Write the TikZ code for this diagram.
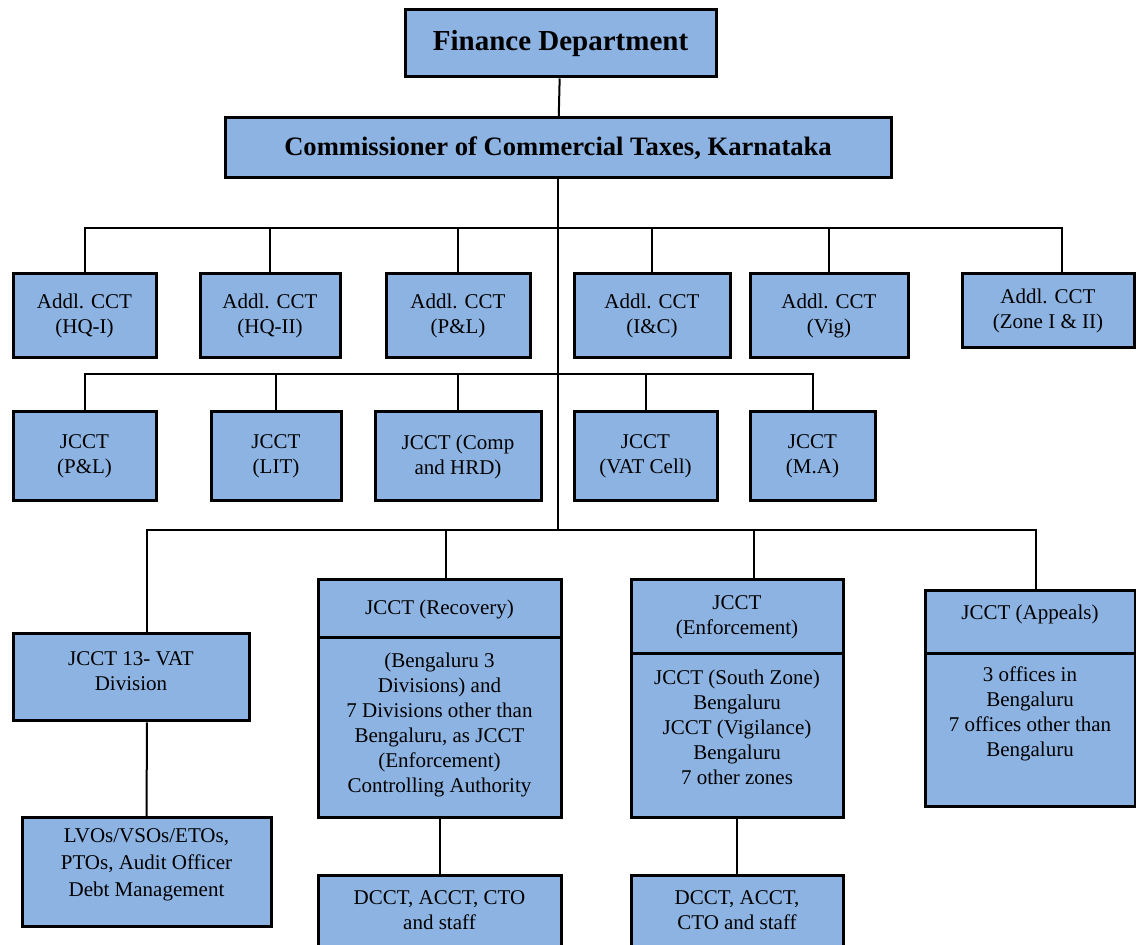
\documentclass[tikz,border=0pt]{standalone}
\usepackage{fontspec}
\setmainfont{Liberation Serif}
\usepackage{xcolor}
\definecolor{boxblue}{RGB}{141,179,226}
\tikzstyle{box}=[draw, line width=1.5pt, fill=boxblue, align=center, inner sep=0pt, font=\fontsize{10.5}{12.5}\selectfont]
\tikzstyle{link}=[line width=1pt]
\tikzstyle{addl}=[box, minimum height=42pt]
\tikzstyle{jcct}=[box, minimum height=44.5pt]

\begin{document}
\begin{tikzpicture}[x=0.5pt,y=-0.5pt]
  \useasboundingbox (0,0) rectangle (1136,945);
  %% top of the tree
  \draw (560.5,43.5) node[box,minimum width=155.5pt,minimum height=33.5pt,font=\fontsize{14.5}{17}\selectfont\bfseries] (F) {Finance Department};
  \draw (558,148) node[box,minimum width=333pt,minimum height=30pt,font=\fontsize{13.3}{16}\selectfont\bfseries] (C) {Commissioner of Commercial Taxes, Karnataka};

  %% Addl. CCT row
  \draw (84.5,316) node[addl,minimum width=71.5pt] (A1) {Addl. CCT\\(HQ-I)};
  \draw (270,316) node[addl,minimum width=70pt] (A2) {Addl. CCT\\(HQ-II)};
  \draw (458,316) node[addl,minimum width=72pt] (A3) {Addl. CCT\\(P\&L)};
  \draw (652,316) node[addl,minimum width=78pt] (A4) {Addl. CCT\\(I\&C)};
  \draw (829,316) node[addl,minimum width=79pt] (A5) {Addl. CCT\\(Vig)};
  \draw (1048,311) node[addl,minimum width=86pt,minimum height=37pt] (A6) {Addl. CCT\\(Zone I \& II)};

  %% JCCT row
  \draw (84.5,456.5) node[jcct,minimum width=71.5pt] (J1) {JCCT\\(P\&L)};
  \draw (276,456.5) node[jcct,minimum width=65pt] (J2) {JCCT\\(LIT)};
  \draw (458,456.5) node[jcct,minimum width=83pt] (J3) {JCCT (Comp\\and HRD)};
  \draw (645.5,456.5) node[jcct,minimum width=71.5pt] (J4) {JCCT\\(VAT Cell)};
  \draw (812.5,456.5) node[jcct,minimum width=62.5pt] (J5) {JCCT\\(M.A)};

  %% lower branches
  \draw (131,677.5) node[box,minimum width=118pt,minimum height=43.5pt,text depth=6pt] (V) {JCCT 13- VAT\\Division};
  \draw (146.5,872.5) node[box,minimum width=124.5pt,minimum height=54.5pt,text depth=10pt,font=\fontsize{10.5}{13.5}\selectfont] (L) {LVOs/VSOs/ETOs,\\PTOs, Audit Officer\\Debt Management};

  \draw (439.5,609) node[box,minimum width=121.5pt,minimum height=29pt] (Rt) {JCCT (Recovery)};
  \draw (439.5,728) node[box,minimum width=121.5pt,minimum height=90pt,text depth=5pt] (Rb) {(Bengaluru 3\\Divisions) and\\7 Divisions other than\\Bengaluru, as JCCT\\(Enforcement)\\Controlling Authority};
  \draw (439.5,916) node[box,minimum width=121.5pt,minimum height=40pt,text depth=6pt] (D1) {DCCT, ACCT, CTO\\and staff};

  \draw (737,617) node[box,minimum width=106pt,minimum height=37pt] (Et) {JCCT\\(Enforcement)};
  \draw (737,736) node[box,minimum width=106pt,minimum height=82pt,text depth=9pt] (Eb) {JCCT (South Zone)\\Bengaluru\\JCCT (Vigilance)\\Bengaluru\\7 other zones};
  \draw (737,916) node[box,minimum width=106pt,minimum height=40pt,text depth=6pt] (D2) {DCCT, ACCT,\\CTO and staff};

  \draw (1030,622.5) node[box,minimum width=105pt,minimum height=31.5pt,text depth=10pt] (At) {JCCT (Appeals)};
  \draw (1030,730.5) node[box,minimum width=105pt,minimum height=76.5pt,text depth=19pt] (Ab) {3 offices in\\Bengaluru\\7 offices other than\\Bengaluru};

  %% Connectors
  \coordinate (hub1) at (558,228);
  \coordinate (hub2) at (558,374);
  \coordinate (hub3) at (558,530);
  \draw[link] (F) -- (C);
  \draw[link] (C.south) -- (hub3);

  \draw[link] (A1.north) |- (hub1);
  \draw[link] (A2.north) |- (hub1);
  \draw[link] (A3.north) |- (hub1);
  \draw[link] (A4.north) |- (hub1);
  \draw[link] (A5.north) |- (hub1);
  \draw[link] ([xshift=7pt]A6.north) |- (hub1);

  \draw[link] (J1.north) |- (hub2);
  \draw[link] (J2.north) |- (hub2);
  \draw[link] (J3.north) |- (hub2);
  \draw[link] (J4.north) |- (hub2);
  \draw[link] (J5.north) |- (hub2);

  \draw[link] ([xshift=8pt]V.north) |- (hub3);
  \draw[link] ([xshift=3.25pt]Rt.north) |- (hub3);
  \draw[link] ([xshift=8.5pt]Et.north) |- (hub3);
  \draw[link] ([xshift=3pt]At.north) |- (hub3);

  \draw[link] ([xshift=8pt]V.south) -- (L.north);
  \draw[link] (Rb.south) -- (D1.north);
  \draw[link] (Eb.south) -- (D2.north);
\end{tikzpicture}
\end{document}
